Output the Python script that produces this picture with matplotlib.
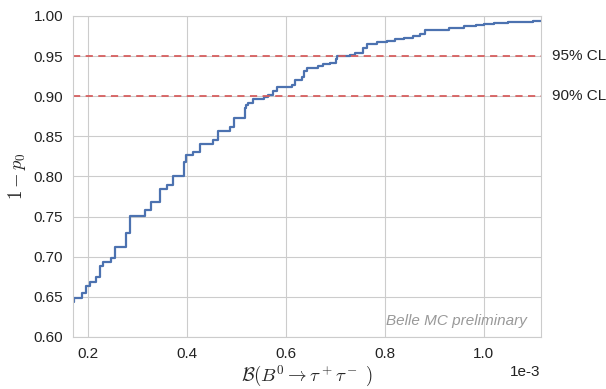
import matplotlib
matplotlib.use("Agg")
import matplotlib.pyplot as plt
import numpy as np
import seaborn as sns

# Step points of 1 - p0 versus branching fraction (x in units of 1e-3)
br_x = [0.170, 0.172, 0.189, 0.196, 0.205, 0.216, 0.224, 0.230, 0.246, 0.255,
        0.277, 0.286, 0.315, 0.327, 0.346, 0.359, 0.373, 0.395, 0.398, 0.412,
        0.426, 0.453, 0.464, 0.487, 0.496, 0.517, 0.520, 0.524, 0.534, 0.556,
        0.565, 0.575, 0.582, 0.612, 0.619, 0.632, 0.637, 0.642, 0.666, 0.676,
        0.689, 0.702, 0.704, 0.730, 0.740, 0.757, 0.764, 0.784, 0.804, 0.821,
        0.838, 0.858, 0.871, 0.881, 0.905, 0.930, 0.960, 0.985, 1.000, 1.020,
        1.050, 1.080, 1.100, 1.115]
one_minus_p0 = [0.643, 0.649, 0.655, 0.663, 0.668, 0.675, 0.688, 0.694, 0.699, 0.712,
                0.729, 0.751, 0.758, 0.768, 0.784, 0.790, 0.800, 0.818, 0.827, 0.831,
                0.840, 0.845, 0.857, 0.862, 0.873, 0.885, 0.889, 0.892, 0.896, 0.899,
                0.902, 0.907, 0.911, 0.914, 0.920, 0.924, 0.931, 0.935, 0.938, 0.940,
                0.942, 0.946, 0.950, 0.951, 0.954, 0.960, 0.965, 0.967, 0.969, 0.971,
                0.973, 0.975, 0.978, 0.982, 0.983, 0.985, 0.987, 0.989, 0.990, 0.991,
                0.992, 0.993, 0.994, 0.994]
cl_levels = [0.95, 0.90]
cl_labels = ["95% CL", "90% CL"]
x_ticks = [0.2e-3, 0.4e-3, 0.6e-3, 0.8e-3, 1.0e-3]
y_ticks = [0.60, 0.65, 0.70, 0.75, 0.80, 0.85, 0.90, 0.95, 1.00]

sns.set_style("whitegrid")
plt.rcParams['font.family'] = ['Liberation Sans', 'DejaVu Sans']
plt.rcParams['mathtext.fontset'] = 'cm'
plt.rcParams['axes.unicode_minus'] = False

fig = plt.figure(figsize=(6.06, 3.89), dpi=100)
ax = fig.add_axes([0.1205, 0.1337, 0.7715, 0.8252])

xs = np.array(br_x) * 1e-3
ax.step(xs, one_minus_p0, where='post', color='#4C72B0', lw=1.6)

for lvl, lab in zip(cl_levels, cl_labels):
    ax.axhline(lvl, color='#d65f5f', ls=(0, (4, 3)), lw=1.3)
    ax.text(1.025, lvl, lab, transform=ax.get_yaxis_transform(),
            va='center', ha='left', fontsize=11, color='#222222')

ax.set_xlim(0.170e-3, 1.115e-3)
ax.set_ylim(0.60, 1.00)
ax.set_xticks(x_ticks)
ax.set_yticks(y_ticks)
ax.ticklabel_format(axis='x', style='sci', scilimits=(0, 0))
ax.yaxis.set_major_formatter(matplotlib.ticker.FormatStrFormatter('%.2f'))
ax.tick_params(labelsize=11, colors='#222222')
ax.xaxis.get_offset_text().set_fontsize(11)

ax.set_xlabel(r'$\mathcal{B}(B^0 \to\tau^+\tau^-\ )$', fontsize=13.5, labelpad=2)
ax.set_ylabel(r'$1 - p_0$', fontsize=13.5, labelpad=4)

ax.text(0.971, 0.05, 'Belle MC preliminary', transform=ax.transAxes,
        ha='right', va='center', fontsize=11, style='italic', color='#999999')

for s in ax.spines.values():
    s.set_color('#cccccc')

fig.savefig('out.png', dpi=100)
